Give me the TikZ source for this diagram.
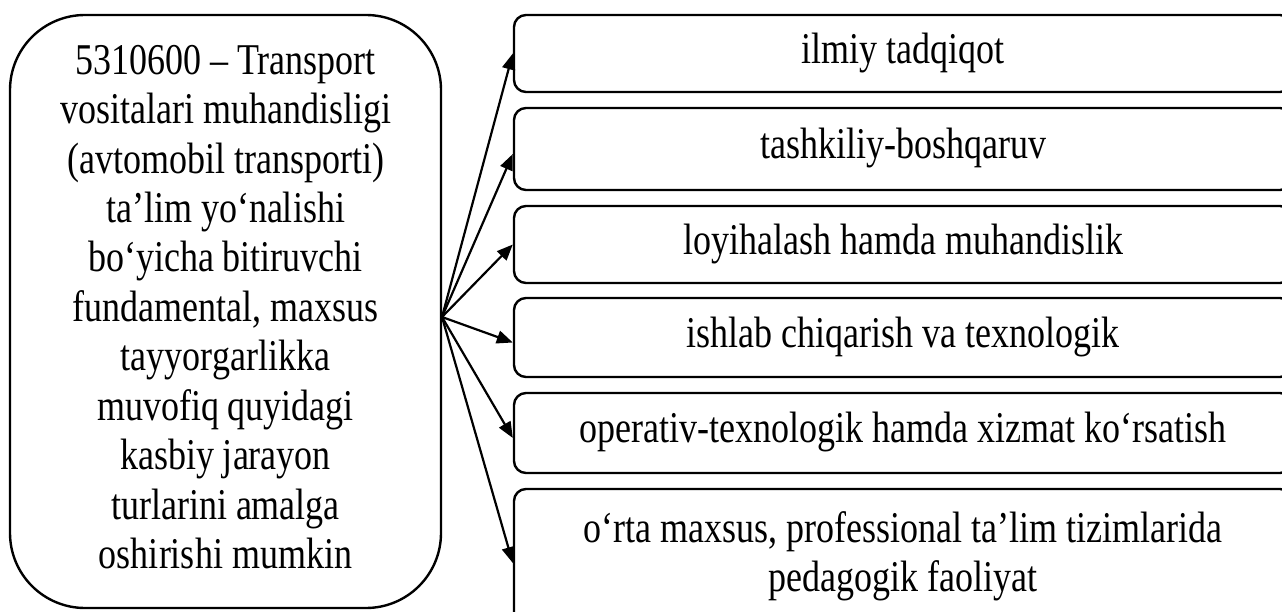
\documentclass[tikz,border=0pt]{standalone}
\usepackage{fontspec}
\setmainfont{Liberation Serif}
\usepackage{graphicx}
\usetikzlibrary{arrows.meta}
% 文字竖向拉伸
\newcommand{\tallbox}[1]{\scalebox{1}[1.22]{\begin{tabular}{@{}c@{}}#1\end{tabular}}}

\begin{document}
\begin{tikzpicture}[x=1pt, y=-1pt]
        % ================= 样式定义 =================
        \tikzset{
            % 左侧大框:大圆角
            mainbox/.style={draw=black, line width=2.4pt, rounded corners=75pt, minimum width=431pt,
                minimum height=593pt, inner sep=0pt, font=\fontsize{36}{40.5}\selectfont},
            % 右侧小框
            sidebox/.style={draw=black, line width=2.4pt, rounded corners=12pt, minimum width=778pt,
                inner sep=0pt, font=\fontsize{36}{40.5}\selectfont},
            % 箭头
            arr/.style={line width=2.2pt, -{Triangle[length=16pt, width=13pt]}}
        }

        \useasboundingbox (0,0) rectangle (1282,612);
        \clip (0,0) rectangle (1282,612);

        % ================= 1. 左侧大框 =================
        \coordinate (cm) at (225.5, 311.5);
        \coordinate (src) at (442, 317);   % 箭头起点

        \node[mainbox] (main) at (cm) {\tallbox{5310600 – Transport\\ vositalari muhandisligi\\
            (avtomobil transporti)\\ ta’lim yo‘nalishi\\ bo‘yicha bitiruvchi\\ fundamental, maxsus\\
            tayyorgarlikka\\ muvofiq quyidagi\\ kasbiy jarayon\\ turlarini amalga\\ oshirishi mumkin}};

        % ================= 2. 右侧六个框 =================
        \coordinate (c1) at (903, 53.5);
        \coordinate (c2) at (903, 149);
        \coordinate (c3) at (903, 244.5);
        \coordinate (c4) at (903, 337.5);
        \coordinate (c5) at (903, 433);
        \coordinate (c6) at (903, 557);

        \node[sidebox, minimum height=77pt] (b1) at (c1) {\tallbox{ilmiy tadqiqot}};
        \node[sidebox, minimum height=82pt] (b2) at (c2) {\tallbox{tashkiliy-boshqaruv}};
        \node[sidebox, minimum height=77pt] (b3) at (c3) {\tallbox{loyihalash hamda muhandislik}};
        \node[sidebox, minimum height=79pt] (b4) at (c4) {\tallbox{ishlab chiqarish va texnologik}};
        \node[sidebox, minimum height=80pt] (b5) at (c5) {\tallbox{operativ-texnologik hamda xizmat ko‘rsatish}};
        \node[sidebox, minimum height=136pt] (b6) at (c6) {\tallbox{o‘rta maxsus, professional ta’lim tizimlarida\\ pedagogik faoliyat}};

        % ================= 3. 箭头 =================
        \draw[arr] (src) -- (b1.west);
        \draw[arr] (src) -- ([yshift=-5pt]b2.west);
        \draw[arr] (src) -- (b3.west);
        \draw[arr] (src) -- ([yshift=-5pt]b4.west);
        \draw[arr] (src) -- ([yshift=-5pt]b5.west);
        \draw[arr] (src) -- ([yshift=-6pt]b6.west);

    \end{tikzpicture}
\end{document}
